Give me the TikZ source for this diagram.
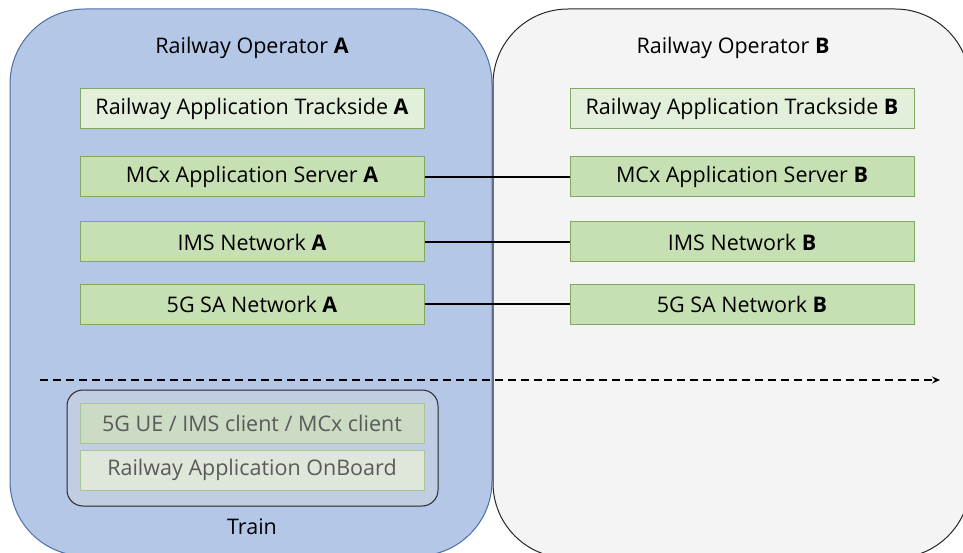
\documentclass[tikz,border=0pt]{standalone}
\usepackage{fontspec}
\setmainfont{Open Sans}
\usetikzlibrary{arrows.meta}

\definecolor{opAfill}{HTML}{B4C7E7}
\definecolor{opAline}{HTML}{4A6FA8}
\definecolor{opBfill}{HTML}{F4F4F4}
\definecolor{opBline}{HTML}{262626}
\definecolor{appfill}{HTML}{E2EFDA}
\definecolor{netfill}{HTML}{C6E0B4}
\definecolor{boxline}{HTML}{82A866}
\definecolor{trainfill}{HTML}{C1CDE3}
\definecolor{uefill}{HTML}{CCDCC4}
\definecolor{obfill}{HTML}{DFE6DA}
\definecolor{fadeline}{HTML}{A9C497}
\definecolor{fadetext}{HTML}{5A5A5A}

\tikzset{
  appbox/.style={draw=boxline, line width=1pt, minimum width=344pt, minimum height=40pt,
    inner sep=0pt},
  fadebox/.style={draw=fadeline, line width=1pt, minimum width=344pt, minimum height=40pt,
    inner sep=0pt, text=fadetext}
}

\begin{document}
\begin{tikzpicture}[x=1pt,y=-1pt, font=\fontsize{21.5}{25}\selectfont]

        \clip (0,0) rectangle (963,553);

        % operator areas
        \draw[opAline, fill=opAfill, line width=1pt, rounded corners=75pt] (10,9) rectangle (492,556);
        \draw[opBline, fill=opBfill, line width=1pt, rounded corners=75pt] (493,9) rectangle (970,558);

        \node (titleA) at (252,48) {Railway Operator \textbf{A}};
        \node (titleB) at (733,48) {Railway Operator \textbf{B}};

        \begin{scope}[every node/.style={appbox}]
          \node[fill=appfill] (trackA) at (252,109) {Railway Application Trackside \textbf{A}};
          \node[fill=netfill] (mcxA)   at (252,177) {MCx Application Server \textbf{A}};
          \node[fill=netfill] (imsA)   at (252,242) {IMS Network \textbf{A}};
          \node[fill=netfill] (sgA)    at (252,304) {5G SA Network \textbf{A}};

          \node[fill=appfill] (trackB) at (742,109) {Railway Application Trackside \textbf{B}};
          \node[fill=netfill] (mcxB)   at (742,177) {MCx Application Server \textbf{B}};
          \node[fill=netfill] (imsB)   at (742,242) {IMS Network \textbf{B}};
          \node[fill=netfill] (sgB)    at (742,304) {5G SA Network \textbf{B}};
        \end{scope}

        \begin{scope}[line width=1.5pt]
          \draw (mcxA) -- (mcxB);
          \draw (imsA) -- (imsB);
          \draw (sgA) -- (sgB);
        \end{scope}

        % movement of the train
        \coordinate (movestart) at (40,380);
        \coordinate (moveend)   at (940,380);
        \draw[line width=1.5pt, dash pattern=on 8pt off 5pt, -{Stealth[length=8pt,width=7pt,inset=3pt]}]
          (movestart) -- (moveend);

        % train
        \node[draw=opBline, fill=trainfill, line width=1pt, rounded corners=16pt,
          minimum width=371pt, minimum height=116pt] (train) at (252.5,448) {};

        \begin{scope}[every node/.style={fadebox}]
          \node[fill=uefill] (ue)      at (252,423) {5G UE / IMS client / MCx client};
          \node[fill=obfill] (onboard) at (252,470) {Railway Application OnBoard};
        \end{scope}

        \node (trainlabel) at (252,527) {Train};

      \end{tikzpicture}
\end{document}
